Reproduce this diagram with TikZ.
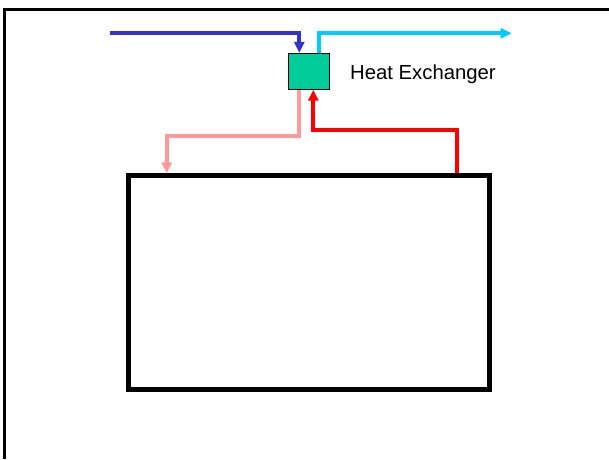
\documentclass[tikz,border=0pt]{standalone}
\usepackage{fontspec}
\setmainfont{Liberation Sans}
\usetikzlibrary{arrows.meta}
\definecolor{hxgreen}{HTML}{00CC99}
\definecolor{coldin}{HTML}{3333CC}
\definecolor{coldout}{HTML}{00CCFF}
\definecolor{hotret}{HTML}{FF9999}
\definecolor{hotsup}{HTML}{FF0000}
\tikzset{
  pipe/.style={line width=3.8pt, -{Triangle[width=10pt,length=11pt]}, line join=miter},
  hxbox/.style={draw=black, line width=0.8pt, fill=hxgreen, minimum width=40.8pt, minimum height=36pt, inner sep=0pt},
  tankbox/.style={draw=black, line width=5pt, minimum width=361.6pt, minimum height=214pt, inner sep=0pt},
  lbl/.style={font=\fontsize{20.3}{24}\selectfont, inner sep=0pt}
}
\begin{document}
\begin{tikzpicture}[x=1pt,y=-1pt]
\useasboundingbox (0,0) rectangle (609,459);
\fill[white] (0,0) rectangle (609,459);
% outer frame (open to the right and bottom)
\draw[line width=3pt] (4.2,459) -- (4.2,9.5) -- (609,9.5);
\node[hxbox] (hx) at (308.9,71.3) {};
\node[tankbox] (tank) at (309,282.8) {};
\node[lbl, anchor=base west] (hxlabel) at (350,79.3) {Heat Exchanger};
\coordinate (cin) at (110,33.3);
\coordinate (cout) at (511.7,33.3);
% cold water in
\draw[pipe, coldin] (cin) -| ([xshift=-9.6pt]hx.north);
% cold water out
\draw[pipe, coldout] ([xshift=10.1pt]hx.north) |- (cout);
% hot return to tank
\draw[pipe, hotret] ([xshift=-9.9pt]hx.south) -- ++(0,46) -| ([xshift=-142.3pt]tank.north);
% hot supply from tank
\draw[pipe, hotsup] ([xshift=147.8pt]tank.north) -- ++(0,-43.3) -| ([xshift=4.4pt]hx.south);
\end{tikzpicture}
\end{document}
